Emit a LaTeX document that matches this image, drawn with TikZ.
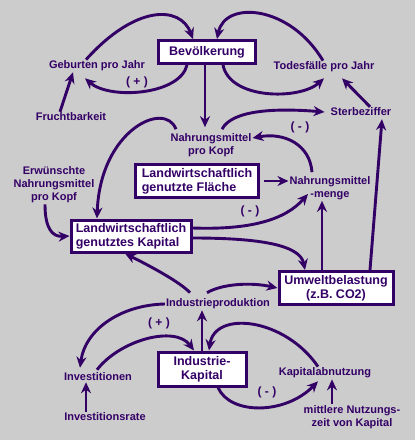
\documentclass[tikz,border=0pt]{standalone}
\usepackage{fontspec}
\setmainfont{Liberation Sans}
\usepackage{xcolor}
\usepackage{tikz}
\usetikzlibrary{arrows.meta}

\definecolor{ink}{HTML}{330066}
\definecolor{paper}{HTML}{CCCCCC}

\begin{document}
\begin{tikzpicture}[
    x=1pt, y=-1pt,
    block/.style={rectangle, draw=ink, fill=white, line width=3pt, text=ink, inner sep=0pt, font=\fontsize{12.5}{14}\selectfont\bfseries},
    var/.style={text=ink, align=center, inner sep=1pt, font=\fontsize{11}{13}\selectfont\bfseries},
    sign/.style={text=ink, inner sep=0pt, font=\fontsize{12}{14}\selectfont\bfseries},
    link/.style={-{Stealth[length=11pt, width=10pt]}, line width=2.9pt, draw=ink}
]

% Background
\fill[paper] (0,0) rectangle (415,440);
\useasboundingbox (0,0) rectangle (415,440);

% Stocks
\node[block, minimum width=97pt, minimum height=23pt] (bev) at (207,52) {Bevölkerung};
\node[block, align=left, minimum width=123pt, minimum height=33pt] (lwf) at (197,181) {Landwirtschaftlich\\genutzte Fläche};
\node[block, align=left, minimum width=120pt, minimum height=32pt] (lwk) at (131,236) {Landwirtschaftlich\\genutztes Kapital};
\node[block, align=center, minimum width=114pt, minimum height=33pt] (umw) at (336,288) {Umweltbelastung\\(z.B. CO2)};
\node[block, align=center, minimum width=88pt, minimum height=34pt] (ik) at (202,369) {Industrie-\\Kapital};

% Variables
\node[var] (geb) at (97,66) {Geburten pro Jahr};
\node[var] (fru) at (71,117) {Fruchtbarkeit};
\node[var] (tod) at (324,67) {Todesfälle pro Jahr};
\node[var] (ster) at (361,112) {Sterbeziffer};
\node[var] (nmk) at (211,145) {Nahrungsmittel\\pro Kopf};
\node[var] (nmm) at (330,188) {Nahrungsmittel\\-menge};
\node[var] (erw) at (54,185) {Erwünschte\\Nahrungsmittel\\pro Kopf};
\node[var] (ip) at (218,304) {Industrieproduktion};
\node[var] (inv) at (98,377) {Investitionen};
\node[var] (ir) at (105,417) {Investitionsrate};
\node[var] (ka) at (325,373) {Kapitalabnutzung};
\node[var] (mnz) at (352,417) {mittlere Nutzungs-\\zeit von Kapital};

% Signs
\node[sign] (plusgeb) at (137,82) {( + )};
\node[sign] (minster) at (300,127) {( - )};
\node[sign] (minmenge) at (250,211) {( - )};
\node[sign] (plusinv) at (159,323) {( + )};
\node[sign] (minabn) at (267,392) {( - )};

% Population loops
\draw[link] ([xshift=-11pt]geb.north) .. controls (135,5) and (180,5) .. ([xshift=-14pt]bev.north);
\draw[link] ([xshift=-20pt]bev.south) .. controls (180,95) and (110,100) .. ([xshift=-12pt,yshift=-6pt]geb.south);
\draw[link] ([xshift=-1pt]tod.north) .. controls (290,5) and (225,0) .. ([xshift=10pt]bev.north);
\draw[link] ([xshift=16pt]bev.south) .. controls (230,100) and (300,100) .. ([yshift=-5pt]tod.south);
\draw[link] ([xshift=-11pt]fru.north) -- ([xshift=-24pt]geb.south);
\draw[link] ([xshift=9pt]ster.north) -- ([xshift=18pt,yshift=-5pt]tod.south);

% Food
\draw[link] ([xshift=-2pt]bev.south) -- ([xshift=-6pt,yshift=5pt]nmk.north);
\draw[link] ([xshift=11pt,yshift=3pt]nmk.north) .. controls (232,110) and (275,108) .. ([xshift=-5pt]ster.west);
\draw[link] ([xshift=-18pt,yshift=3pt]nmm.north) .. controls (310,145) and (285,132) .. ([yshift=7pt]nmk.east);
\draw[link] ([xshift=-35pt,yshift=3pt]nmk.north) .. controls (165,100) and (100,130) .. ([xshift=-34pt]lwk.north);
\draw[link] ([xshift=-9pt]erw.south) .. controls (45,228) and (52,237) .. (lwk.west);
\draw[link] ([xshift=4pt]lwf.east) -- (lwf.east -| nmm.west);
\draw[link] ([yshift=8pt]lwk.east) .. controls (250,230) and (285,220) .. ([xshift=-22pt,yshift=-6pt]nmm.center);
\draw[link] ([yshift=-2pt]lwk.east) .. controls (260,238) and (300,245) .. ([xshift=-31pt]umw.north);

% Pollution
\draw[link] ([xshift=-14pt]umw.north) -- ([xshift=-14pt]umw.north |- nmm.south);
\draw[link] ([xshift=34pt]umw.north) -- ([xshift=21pt,yshift=-2pt]ster.south);

% Industry
\draw[link] ([xshift=-28pt,yshift=5pt]ip.north) .. controls (180,282) and (150,266) .. ([xshift=-6pt]lwk.south);
\draw[link] ([xshift=-11pt,yshift=5pt]ip.north) .. controls (222,284) and (250,282) .. (umw.west);
\draw[link] (ip.west) .. controls (120,305) and (85,330) .. ([xshift=-18pt,yshift=4pt]inv.north);
\draw[link] ([xshift=-1pt,yshift=2pt]inv.north) .. controls (120,340) and (175,325) .. ([xshift=-8pt]ik.north);
\draw[link] (ik.north) -- (ik.north |- ip.south);
\draw[link] ([xshift=-7pt]ka.north) .. controls (285,318) and (215,310) .. ([xshift=7pt]ik.north);
\draw[link] ([xshift=16pt]ik.south) .. controls (230,415) and (285,415) .. ([xshift=-7pt,yshift=-2pt]ka.south);
\draw[link] ([xshift=-20pt]mnz.north) -- ([xshift=-20pt]mnz.north |- ka.south);
\draw[link] ([xshift=-19pt]ir.north) -- ([xshift=-19pt]ir.north |- inv.south);

\end{tikzpicture}
\end{document}
